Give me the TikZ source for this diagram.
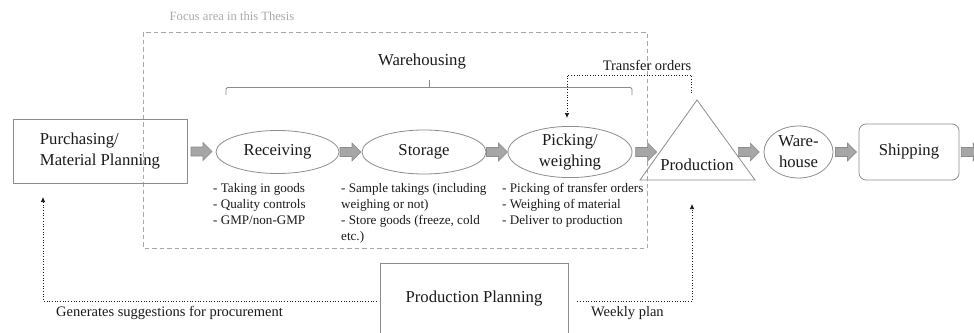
\documentclass[tikz,border=0pt]{standalone}
\usepackage{fontspec}
\setmainfont{Liberation Serif}
\usepackage{tikz}
\usetikzlibrary{shapes.geometric, arrows.meta, positioning, calc}
\definecolor{flowgrey}{HTML}{8C8C8C}
\definecolor{flowfill}{HTML}{A6A6A6}
\definecolor{focusgrey}{HTML}{A8A8A8}
\definecolor{flowink}{HTML}{1A1A1A}

\newcommand{\mainsize}{\fontsize{16.7}{21}\selectfont}
\newcommand{\notesize}{\fontsize{13.1}{16}\selectfont}
\newcommand{\labelsize}{\fontsize{14.5}{17}\selectfont}

\tikzset{
  stepbox/.style={draw=flowgrey, line width=0.8pt, text=flowink, font=\mainsize, inner sep=0pt},
  stepoval/.style={stepbox, ellipse, align=center},
  notes/.style={anchor=north west, align=left, inner sep=0pt, font=\notesize, text=flowink},
  infoline/.style={draw=flowink, line width=0.7pt, dotted},
  infotip/.style={-{Latex[length=5pt, width=4.5pt]}},
  flowarrow/.pic={
    \draw[draw=flowgrey, fill=flowfill, line width=0.6pt]
      (-10.5,-4.5) -- (1.5,-4.5) -- (1.5,-9) -- (10.5,0) -- (1.5,9) -- (1.5,4.5) -- (-10.5,4.5) -- cycle;
  }
}

\begin{document}
\begin{tikzpicture}[x=1pt, y=-1pt]
\useasboundingbox (0,0) rectangle (974,332);
\clip (0,0) rectangle (974,332);

% focus area of the thesis
\draw[focusgrey, dash pattern=on 4.5pt off 3pt, line width=0.9pt] (143,32) rectangle (647,248);
\node[text=focusgrey, font=\fontsize{12.6}{15}\selectfont] (focus) at (232,16) {Focus area in this Thesis};

% main flow
\node[stepbox, minimum width=174, minimum height=64, align=left] (purch) at (100,151) {Purchasing/\\Material Planning};
\node[stepoval, minimum width=123, minimum height=43] (recv) at (277.5,152) {Receiving};
\node[stepoval, minimum width=124, minimum height=44] (stor) at (424,152) {Storage};
\node[stepoval, minimum width=124, minimum height=44] (pick) at (570,152) {Picking/\\weighing};

% production triangle
\coordinate (prodtop) at (697,100);
\coordinate (prodW) at (660,152);
\coordinate (prodE) at (734,152);
\draw[draw=flowgrey, line width=0.8pt] (prodtop) -- (755,180) -- (640,180) -- cycle;
\node[text=flowink, font=\mainsize, inner sep=0pt] (prod) at (697,165) {Production};

\node[stepoval, minimum width=69, minimum height=52] (whouse) at (798.5,152) {Ware-\\house};
\node[stepbox, rounded corners=7pt, minimum width=100, minimum height=56] (ship) at (909,152) {Shipping};
\coordinate (shipout) at (984,152);

% grey block arrows between the steps
\pic at ($(purch.east)!0.5!(recv.west)$) {flowarrow};
\pic at ($(recv.east)!0.5!(stor.west)$) {flowarrow};
\pic at ($(stor.east)!0.5!(pick.west)$) {flowarrow};
\pic at ($(pick.east)!0.5!(prodW)$) {flowarrow};
\pic at ($(prodE)!0.5!(whouse.west)$) {flowarrow};
\pic at ($(whouse.east)!0.5!(ship.west)$) {flowarrow};
\pic at ($(ship.east)!0.5!(shipout)$) {flowarrow};

% warehousing bracket
\node[text=flowink, font=\mainsize, inner sep=0pt] (wh) at (422,62) {Warehousing};
\draw[flowgrey, line width=0.8pt, rounded corners=1.5pt] (226,95) -- (226,87.5) -- (632,87.5) -- (632,95);
\draw[flowgrey, line width=0.8pt] (429,87.5) -- (429,80);

% activities under each step
\node[notes] (recvnotes) at (213,183.5) {- Taking in goods\\- Quality controls\\- GMP/non-GMP};
\node[notes] (stornotes) at (341,183.5) {- Sample takings (including\\weighing or not)\\- Store goods (freeze, cold\\etc.)};
\node[notes] (picknotes) at (502,183.5) {- Picking of transfer orders\\- Weighing of material\\- Deliver to production};

% transfer orders
\node[text=flowink, font=\labelsize, inner sep=0pt] (transfer) at (647,65) {Transfer orders};
\coordinate (tofrom) at (691.5,93);
\coordinate (toend) at (567,118);
\draw[infoline, infotip] (tofrom) |- (toend |- 0,75) -- (toend);

% production planning
\node[stepbox, minimum width=188, text height=12pt, text depth=40pt, inner ysep=27pt, anchor=north] (pplan) at (474,263) {Production Planning};
\coordinate (purchin) at (43,197);
\coordinate (prodin) at (692,204);
\draw[infoline, infotip] ([xshift=-3pt]pplan.west |- 0,301) -| (purchin);
\draw[infoline, infotip] ([xshift=9pt]pplan.east |- 0,301) -| (prodin);
\node[anchor=west, text=flowink, font=\labelsize, inner sep=0pt] (procure) at (56,313) {Generates suggestions for procurement};
\node[anchor=west, text=flowink, font=\labelsize, inner sep=0pt] (weekly) at (591,313) {Weekly plan};
\end{tikzpicture}
\end{document}
